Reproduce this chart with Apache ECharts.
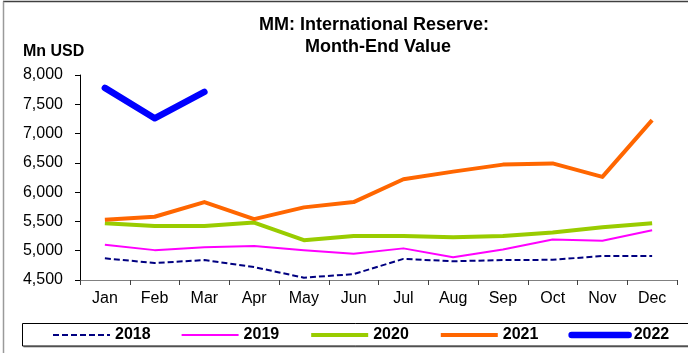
<!DOCTYPE html>
<html>
<head>
<meta charset="utf-8">
<script src="https://cdn.jsdelivr.net/npm/echarts@6/dist/echarts.min.js"></script>
<style>
  html, body { margin: 0; padding: 0; background: #fff; }
  #chart { width: 688px; height: 353px; }
</style>
</head>
<body>
<div id="chart"></div>
<script>
// Month-end international reserve, million USD
var months = ['Jan', 'Feb', 'Mar', 'Apr', 'May', 'Jun', 'Jul', 'Aug', 'Sep', 'Oct', 'Nov', 'Dec'];
var years = ['2018', '2019', '2020', '2021', '2022'];
var reserve2018 = [4870, 4790, 4840, 4720, 4540, 4600, 4860, 4820, 4840, 4845, 4910, 4910];
var reserve2019 = [5100, 5010, 5060, 5080, 5010, 4950, 5040, 4890, 5020, 5190, 5170, 5350];
var reserve2020 = [5470, 5420, 5420, 5480, 5180, 5250, 5250, 5230, 5250, 5310, 5400, 5470];
var reserve2021 = [5530, 5580, 5830, 5540, 5740, 5830, 6220, 6350, 6470, 6490, 6260, 7230];
var reserve2022 = [7780, 7260, 7710];
var yTicks = { min: 4500, max: 8000, step: 500 };

var FONT = '"Liberation Sans", Arial, sans-serif';

var styles = [
  { color: '#000080', width: 2, type: [6, 3] },
  { color: '#FF00FF', width: 2, type: 'solid' },
  { color: '#99CC00', width: 4, type: 'solid' },
  { color: '#FF6600', width: 4, type: 'solid' },
  { color: '#0000FF', width: 6.5, type: 'solid' }
];
var values = [reserve2018, reserve2019, reserve2020, reserve2021, reserve2022];

function lineStyleOf(i) {
  return {
    color: styles[i].color,
    width: styles[i].width,
    type: styles[i].type,
    cap: i === 4 ? 'round' : 'butt',
    join: 'round'
  };
}

var series = years.map(function (y, i) {
  return {
    name: y,
    type: 'line',
    data: values[i],
    symbol: 'none',
    z: 2 + i,
    lineStyle: lineStyleOf(i),
    itemStyle: { color: styles[i].color }
  };
});

var legendItems = years.map(function (y, i) {
  return { name: y, lineStyle: lineStyleOf(i), itemStyle: { opacity: 0 } };
});

var chart = echarts.init(document.getElementById('chart'), null, { renderer: 'canvas' });
chart.setOption({
  animation: false,
  backgroundColor: '#ffffff',
  grid: { left: 80, right: 11, top: 75, bottom: 73 },
  xAxis: {
    type: 'category',
    data: months,
    boundaryGap: true,
    axisLine: { lineStyle: { color: '#808080', width: 1 } },
    axisTick: { show: true, length: 5, lineStyle: { color: '#404040' } },
    axisLabel: { color: '#000', fontFamily: FONT, fontSize: 16, margin: 11 },
    splitLine: { show: false }
  },
  yAxis: {
    type: 'value',
    min: yTicks.min,
    max: yTicks.max,
    interval: yTicks.step,
    axisLine: { show: true, lineStyle: { color: '#000', width: 1 } },
    axisTick: { show: true, length: 5, lineStyle: { color: '#000' } },
    axisLabel: {
      color: '#000', fontFamily: FONT, fontSize: 16, margin: 17,
      formatter: function (v) { return v.toLocaleString('en-US'); }
    },
    splitLine: { show: false }
  },
  legend: {
    data: legendItems,
    left: 52,
    top: 326,
    padding: 0,
    itemWidth: 57,
    itemHeight: 18,
    itemGap: 30,
    itemStyle: { opacity: 0 },
    textStyle: { color: '#000', fontFamily: FONT, fontSize: 16, fontWeight: 'bold', lineHeight: 18 }
  },
  graphic: [
    { type: 'line', shape: { x1: 3, y1: 1.5, x2: 688, y2: 1.5 }, style: { stroke: '#404040', lineWidth: 1.5 } },
    { type: 'line', shape: { x1: 3.5, y1: 1.5, x2: 3.5, y2: 353 }, style: { stroke: '#9a9a9a', lineWidth: 1.5 } },
    { type: 'rect', z: 0, shape: { x: 23.5, y: 325, width: 700, height: 22.5 }, style: { fill: '#a0a0a0', stroke: null } },
    { type: 'rect', z: 1, shape: { x: 22.5, y: 323.5, width: 700, height: 22.5 }, style: { fill: '#fff', stroke: '#000', lineWidth: 1 } },
    {
      type: 'text', x: 374, y: 25,
      style: { text: 'MM: International Reserve:', font: 'bold 18px ' + FONT, fill: '#000', textAlign: 'center', textVerticalAlign: 'middle' }
    },
    {
      type: 'text', x: 378, y: 47,
      style: { text: 'Month-End Value', font: 'bold 18px ' + FONT, fill: '#000', textAlign: 'center', textVerticalAlign: 'middle' }
    },
    {
      type: 'text', x: 23, y: 52,
      style: { text: 'Mn USD', font: 'bold 16px ' + FONT, fill: '#000', textAlign: 'left', textVerticalAlign: 'middle' }
    }
  ],
  series: series
});
</script>
</body>
</html>
